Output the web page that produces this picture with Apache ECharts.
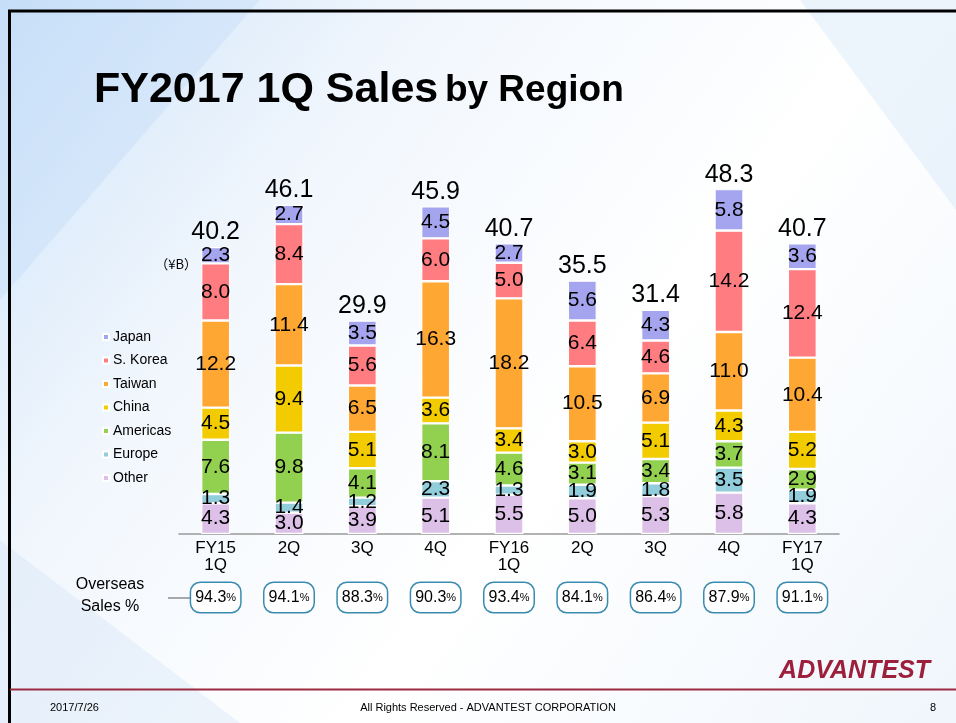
<!DOCTYPE html>
<html>
<head>
<meta charset="utf-8">
<script src="https://cdn.jsdelivr.net/npm/echarts@6/dist/echarts.min.js"></script>
<style>
html,body{margin:0;padding:0;background:#fff;}
#c{width:956px;height:723px;}
</style>
</head>
<body>
<div id="c"></div>
<script>
var categories = ['FY15\n1Q', '2Q', '3Q', '4Q', 'FY16\n1Q', '2Q', '3Q', '4Q', 'FY17\n1Q'];
var other    = [4.3, 3.0, 3.9, 5.1, 5.5, 5.0, 5.3, 5.8, 4.3];
var europe   = [1.3, 1.4, 1.2, 2.3, 1.3, 1.9, 1.8, 3.5, 1.9];
var americas = [7.6, 9.8, 4.1, 8.1, 4.6, 3.1, 3.4, 3.7, 2.9];
var china    = [4.5, 9.4, 5.1, 3.6, 3.4, 3.0, 5.1, 4.3, 5.2];
var taiwan   = [12.2, 11.4, 6.5, 16.3, 18.2, 10.5, 6.9, 11.0, 10.4];
var skorea   = [8.0, 8.4, 5.6, 6.0, 5.0, 6.4, 4.6, 14.2, 12.4];
var japan    = [2.3, 2.7, 3.5, 4.5, 2.7, 5.6, 4.3, 5.8, 3.6];
var totals   = [40.2, 46.1, 29.9, 45.9, 40.7, 35.5, 31.4, 48.3, 40.7];
var overseas = ['94.3', '94.1', '88.3', '90.3', '93.4', '84.1', '86.4', '87.9', '91.1'];

var FONT = 'Liberation Sans, Arial, sans-serif';
var colors = {
  'Japan': '#a5a5ef', 'S. Korea': '#ff7c80', 'Taiwan': '#ffa733', 'China': '#f2cc00',
  'Americas': '#92d050', 'Europe': '#92cddc', 'Other': '#dcc0e8'
};
var stackOrder = [['Other', other], ['Europe', europe], ['Americas', americas], ['China', china],
                  ['Taiwan', taiwan], ['S. Korea', skorea], ['Japan', japan]];

var series = stackOrder.map(function (s) {
  return {
    name: s[0], type: 'bar', stack: 'total', data: s[1], barWidth: 29,
    itemStyle: { color: colors[s[0]], borderColor: '#ffffff', borderWidth: 1.2 },
    label: { show: true, position: 'inside', color: '#000', fontSize: 21, fontFamily: FONT,
             formatter: function (p) { return p.value.toFixed(1); } },
    emphasis: { disabled: true }
  };
});
series.push({
  name: 'Total', type: 'scatter', data: totals, symbolSize: 0, silent: true,
  itemStyle: { opacity: 1, color: '#000' },
  label: { show: true, position: 'top', distance: 2, color: '#000', fontSize: 25, fontFamily: FONT,
           formatter: function (p) { return p.value.toFixed(1); } }
});

var chart = echarts.init(document.getElementById('c'), null, { renderer: 'canvas' });
chart.setOption({
  animation: false,
  backgroundColor: {
    type: 'linear', x: 0, y: 0, x2: 1, y2: 1,
    colorStops: [{ offset: 0, color: '#cfe4f9' }, { offset: 0.3, color: '#f2f7fd' }, { offset: 0.6, color: '#ffffff' }, { offset: 1, color: '#f0f6fc' }]
  },
  grid: { left: 179, right: 117, top: 177, bottom: 189 },
  legend: {
    data: ['Japan', 'S. Korea', 'Taiwan', 'China', 'Americas', 'Europe', 'Other'],
    orient: 'vertical', left: 97, top: 325, itemWidth: 6, itemHeight: 6, itemGap: 9.5,
    icon: 'rect', selectedMode: false,
    textStyle: { fontSize: 14, fontFamily: FONT, color: '#000', lineHeight: 14, padding: [0, 0, 0, -1] }
  },
  xAxis: [{
    type: 'category', data: categories, gridIndex: 0,
    axisLine: { lineStyle: { color: '#999', width: 1.5 } },
    axisTick: { show: false },
    axisLabel: { color: '#000', fontSize: 17, fontFamily: FONT, lineHeight: 17, margin: 6, interval: 0 }
  }, {
    type: 'category', data: overseas, gridIndex: 0, position: 'bottom', offset: 45,
    axisLine: { show: false }, axisTick: { show: false },
    axisLabel: {
      interval: 0, margin: 4, color: '#000', width: 39, align: 'center',
      padding: [6, 5, 6, 5], borderColor: '#3a8bb0', borderWidth: 1.5, borderRadius: 9,
      backgroundColor: '#ffffff',
      formatter: function (v) { return '{a|' + v + '}{p|%}'; },
      rich: {
        a: { fontSize: 16, fontFamily: FONT, color: '#000', lineHeight: 17 },
        p: { fontSize: 11, fontFamily: FONT, color: '#000', lineHeight: 17 }
      }
    }
  }],
  yAxis: { type: 'value', min: 0, max: 50, show: false, splitLine: { show: false } },
  series: series,
  graphic: [
    // decorative background facets
    { type: 'polygon', silent: true, z: -10, shape: { points: [[0, 0], [260, 0], [0, 300]] }, style: { fill: 'rgba(170,205,245,0.22)' } },
    { type: 'polygon', silent: true, z: -10, shape: { points: [[800, 0], [956, 0], [956, 210]] }, style: { fill: 'rgba(185,215,245,0.25)' } },
    { type: 'polygon', silent: true, z: -10, shape: { points: [[0, 540], [240, 723], [0, 723]] }, style: { fill: 'rgba(190,215,245,0.25)' } },
    // slide frame
    { type: 'line', silent: true, shape: { x1: 8, y1: 11, x2: 956, y2: 11 }, style: { stroke: '#000', lineWidth: 3 } },
    { type: 'line', silent: true, shape: { x1: 9.5, y1: 10, x2: 9.5, y2: 723 }, style: { stroke: '#000', lineWidth: 3 } },
    // title
    { type: 'text', left: 94, top: 69, silent: true,
      style: { text: '{a|FY2017 1Q Sales}  {b|by Region}', fill: '#000',
               rich: { a: { fontSize: 43, fontWeight: 'bold', fontFamily: FONT, fill: '#000' },
                       b: { fontSize: 37, fontWeight: 'bold', fontFamily: FONT, fill: '#000' } } } },
    // unit
    { type: 'text', silent: true, style: { text: '（¥B）', x: 197, y: 264, align: 'right', verticalAlign: 'middle', fontSize: 13, fontFamily: 'Noto Sans CJK JP, sans-serif', fill: '#000' } },
    // overseas caption
    { type: 'text', silent: true, style: { text: 'Overseas\nSales %', x: 110, y: 596, align: 'center', verticalAlign: 'middle', fontSize: 16, lineHeight: 22, fontFamily: FONT, fill: '#000' } },
    { type: 'line', silent: true, shape: { x1: 168, y1: 598, x2: 193, y2: 598 }, style: { stroke: '#555', lineWidth: 1 } },
    // logo
    { type: 'text', silent: true, style: { text: 'ADVANTEST', x: 930, y: 671, align: 'right', verticalAlign: 'middle', fontSize: 25, fontWeight: 900, fontStyle: 'italic', fontFamily: FONT, fill: '#9c1f3c' } },
    // footer line
    { type: 'line', silent: true, shape: { x1: 10, y1: 689.5, x2: 956, y2: 689.5 }, style: { stroke: '#9c2a40', lineWidth: 2 } },
    { type: 'text', silent: true, style: { text: '2017/7/26', x: 50, y: 708, verticalAlign: 'middle', fontSize: 11, fontFamily: FONT, fill: '#000' } },
    { type: 'text', silent: true, style: { text: 'All Rights Reserved - ADVANTEST CORPORATION', x: 488, y: 708, align: 'center', verticalAlign: 'middle', fontSize: 11, fontFamily: FONT, fill: '#000' } },
    { type: 'text', silent: true, style: { text: '8', x: 933, y: 708, align: 'center', verticalAlign: 'middle', fontSize: 11, fontFamily: FONT, fill: '#000' } }
  ]
});
</script>
</body>
</html>
